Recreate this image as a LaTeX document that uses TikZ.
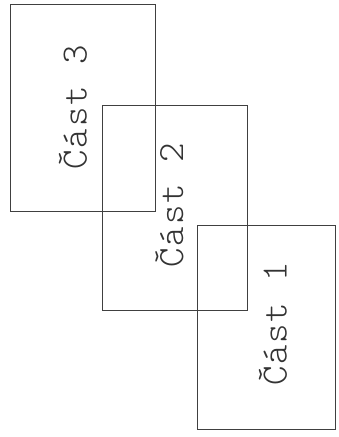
\documentclass[tikz,border=0pt]{standalone}
\usepackage{fontspec}
\setmonofont{Latin Modern Mono Light}[LetterSpace=5]
\usepackage{tikz}
\tikzset{
  partbox/.style={draw=black!75,line width=0.7pt,inner sep=0pt},
  partlabel/.style={font=\ttfamily\fontsize{37}{40}\selectfont,text=black!80,rotate=90,inner sep=0pt}
}

\begin{document}
\begin{tikzpicture}[x=1pt,y=-1pt]
  \useasboundingbox (0,0) rectangle (339,437);
  % three overlapping parts
  \node[partbox,minimum width=145pt,minimum height=207pt](part3) at (83,107.5){};
  \node[partbox,minimum width=144.5pt,minimum height=205pt](part2) at (174.75,207.5){};
  \node[partbox,minimum width=138pt,minimum height=204pt](part1) at (266,327){};
  % labels
  \node[partlabel](lab3) at (73,107.5){Část 3};
  \node[partlabel](lab2) at (169.5,205.5){Část 2};
  \node[partlabel](lab1) at (273,324){Část 1};
\end{tikzpicture}
\end{document}
